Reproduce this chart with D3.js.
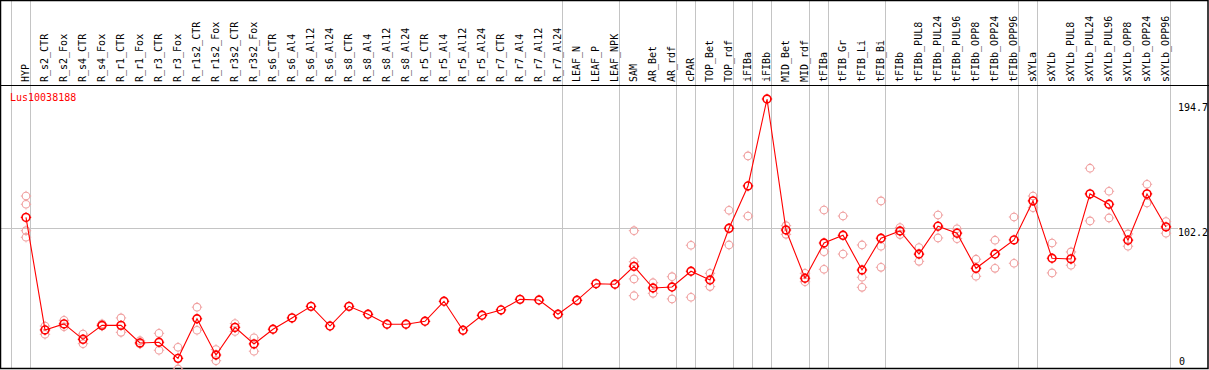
<!DOCTYPE html>
<html>
<head>
<meta charset="utf-8">
<script src="https://cdn.jsdelivr.net/npm/d3@7"></script>
<style>
  body { margin: 0; background: #fff; }
  svg { display: block; }
  text { font-family: "DejaVu Sans Mono", "Liberation Mono", monospace; font-size: 10px; }
</style>
</head>
<body>
<svg id="chart" width="1209" height="370"></svg>
<script>
width = 1209;
height = 370;

geneName = "Lus10038188";

samples = ["HYP","R_s2_CTR","R_s2_Fox","R_s4_CTR","R_s4_Fox","R_r1_CTR","R_r1_Fox","R_r3_CTR","R_r3_Fox",
  "R_r1s2_CTR","R_r1s2_Fox","R_r3s2_CTR","R_r3s2_Fox","R_s6_CTR","R_s6_Al4","R_s6_Al12","R_s6_Al24",
  "R_s8_CTR","R_s8_Al4","R_s8_Al12","R_s8_Al24","R_r5_CTR","R_r5_Al4","R_r5_Al12","R_r5_Al24",
  "R_r7_CTR","R_r7_Al4","R_r7_Al12","R_r7_Al24","LEAF_N","LEAF_P","LEAF_NPK","SAM","AR_Bet","AR_rdf",
  "cPAR","TOP_Bet","TOP_rdf","iFIBa","iFIBb","MID_Bet","MID_rdf","tFIBa","tFIB_Gr","tFIB_Li","tFIB_Bi",
  "tFIBb","tFIBb_PUL8","tFIBb_PUL24","tFIBb_PUL96","tFIBb_OPP8","tFIBb_OPP24","tFIBb_OPP96",
  "sXYLa","sXYLb","sXYLb_PUL8","sXYLb_PUL24","sXYLb_PUL96","sXYLb_OPP8","sXYLb_OPP24","sXYLb_OPP96"];

// sizes of the sample groups, separated by grey lines
groupSizes = [1, 28, 3, 3, 1, 2, 1, 1, 2, 1, 3, 7, 1, 7];

means = [110.0, 29.5, 33.8, 22.8, 32.8, 32.8, 20.2, 20.7, 9.2, 37.5, 11.6, 31.3, 19.5,
  30.0, 38.1, 46.4, 32.3, 46.4, 40.7, 33.6, 33.6, 35.7, 50.0, 29.3, 40.0, 43.8, 51.4, 50.9, 40.7,
  50.7, 62.6, 62.2, 75.0, 59.5, 60.2, 71.5, 65.2, 102.2, 132.5, 194.7, 101.0, 66.5,
  91.7, 97.2, 72.4, 95.1, 100.3, 83.8, 103.7, 98.7, 73.6, 83.8, 93.9,
  121.8, 80.8, 80.3, 126.8, 119.4, 93.7, 126.8, 103.2];

replicates = [
  [125.3, 119.4, 100.5, 95.8], [32.3, 26.4], [36.4, 31.8], [26.6, 19.7], [33.8, 32.3],
  [38.1, 27.8], [21.8, 19.5], [27.1, 15.0], [17.1, 1.6], [45.8, 29.3], [15.5, 7.5],
  [34.1, 28.4], [23.9, 14.3],
  [], [], [], [], [], [], [], [], [], [], [], [], [], [], [], [],
  [], [], [],
  [100.5, 78.3, 66.0, 54.0], [63.3, 55.7], [67.6, 51.7], [90.1, 52.9], [70.0, 60.5],
  [115.1, 90.3], [154.0, 111.0], [], [104.1, 97.9], [70.0, 64.0],
  [115.3, 85.5, 72.9], [111.0, 83.8], [90.3, 67.2, 60.0], [121.8, 89.4, 74.3],
  [102.7, 97.7], [88.4, 78.6], [111.7, 95.3], [101.9, 94.8], [80.1, 67.9], [93.7, 73.6], [110.3, 77.2],
  [125.3, 117.0], [91.7, 70.3], [85.3, 75.8], [145.2, 107.5], [128.7, 109.6],
  [98.2, 89.4], [133.7, 120.3], [107.0, 98.7]];

yMax = 194.7;
yMid = 102.2;

svg = d3.select('#chart');

headerBottom = 85;
plotBottom = 368.5;
plotRight = 1170.5;

x = d3.scalePoint().domain(samples).range([26, 1166]);
y = d3.scaleLinear().domain([0, yMax]).range([371.2, 99]);
step = x.step();

// separators between groups
sepX = [x(samples[0]) - step + 4.5];
let acc = 0;
groupSizes.forEach(function(n){
  acc += n;
  sepX.push(Math.floor(x(samples[acc-1]) + 4.5) + 0.5);
});
sepX[0] = Math.floor(sepX[0]) + 0.5;

svg.append('g').selectAll('line').data(sepX).join('line')
  .attr('x1', d => d).attr('x2', d => d)
  .attr('y1', 0).attr('y2', plotBottom)
  .attr('stroke', '#c4c4c4').attr('stroke-width', 1);

// horizontal grid at middle value
svg.append('line')
  .attr('x1', 0).attr('x2', 1178)
  .attr('y1', Math.round(y(yMid)) + 0.5).attr('y2', Math.round(y(yMid)) + 0.5)
  .attr('stroke', '#c4c4c4').attr('stroke-width', 1);

// frame
svg.append('rect')
  .attr('x', 0.5).attr('y', 0.5)
  .attr('width', width - 1.5).attr('height', plotBottom - 0.5)
  .attr('fill', 'none').attr('stroke', '#000').attr('stroke-width', 1.5);
svg.append('line')
  .attr('x1', 0).attr('x2', width)
  .attr('y1', headerBottom + 0.5).attr('y2', headerBottom + 0.5)
  .attr('stroke', '#000').attr('stroke-width', 1.2);

// sample labels
svg.append('g').selectAll('text').data(samples).join('text')
  .attr('transform', d => `translate(${x(d) + 3},82) rotate(-90)`)
  .attr('fill', '#000')
  .text(d => d);

// value labels on the right
axisLabels = [
  {v: yMax, t: String(yMax), dy: 12.3},
  {v: yMid, t: String(yMid), dy: 7.3},
  {v: 0, t: '0', dy: -6}
];
svg.append('g').selectAll('text').data(axisLabels).join('text')
  .attr('x', d => d.v == 0 ? 1179 : 1178)
  .attr('y', d => y(d.v) + d.dy)
  .attr('fill', '#000')
  .text(d => d.t);

svg.append('text')
  .attr('x', 10).attr('y', 101)
  .attr('fill', '#ff0000')
  .text(geneName);

// replicate points
repPts = [];
replicates.forEach(function(r, i){
  r.forEach(function(v){ repPts.push({s: samples[i], v: v}); });
});

plot = svg.append('g');

function nubs(g, color, w){
  // little pixel ticks round the circles
  g.each(function(d){
    const cx = x(d.s), cy = y(d.v);
    const sel = d3.select(this.parentNode);
    [[0,-1],[0,1],[-1,0],[1,0]].forEach(function(o){
      sel.append('line')
        .attr('x1', cx + o[0]*4).attr('y1', cy + o[1]*4)
        .attr('x2', cx + o[0]*5.2).attr('y2', cy + o[1]*5.2)
        .attr('stroke', color).attr('stroke-width', w);
    });
  });
}

repG = plot.append('g');
reps = repG.selectAll('circle').data(repPts).join('circle')
  .attr('cx', d => x(d.s)).attr('cy', d => y(d.v))
  .attr('r', 3.8)
  .attr('fill', 'none').attr('stroke', '#f0a0a0').attr('stroke-width', 1.1);
nubs(reps, '#f0a0a0', 1);

meanPts = means.map((v, i) => ({s: samples[i], v: v}));

plot.append('path')
  .datum(meanPts)
  .attr('d', d3.line().x(d => x(d.s)).y(d => y(d.v)))
  .attr('fill', 'none').attr('stroke', '#ff0000').attr('stroke-width', 1.1);

meanG = plot.append('g');
mc = meanG.selectAll('circle').data(meanPts).join('circle')
  .attr('cx', d => x(d.s)).attr('cy', d => y(d.v))
  .attr('r', 3.9)
  .attr('fill', 'none').attr('stroke', '#ff0000').attr('stroke-width', 1.6);
nubs(mc, '#ff0000', 1.2);
</script>
</body>
</html>
